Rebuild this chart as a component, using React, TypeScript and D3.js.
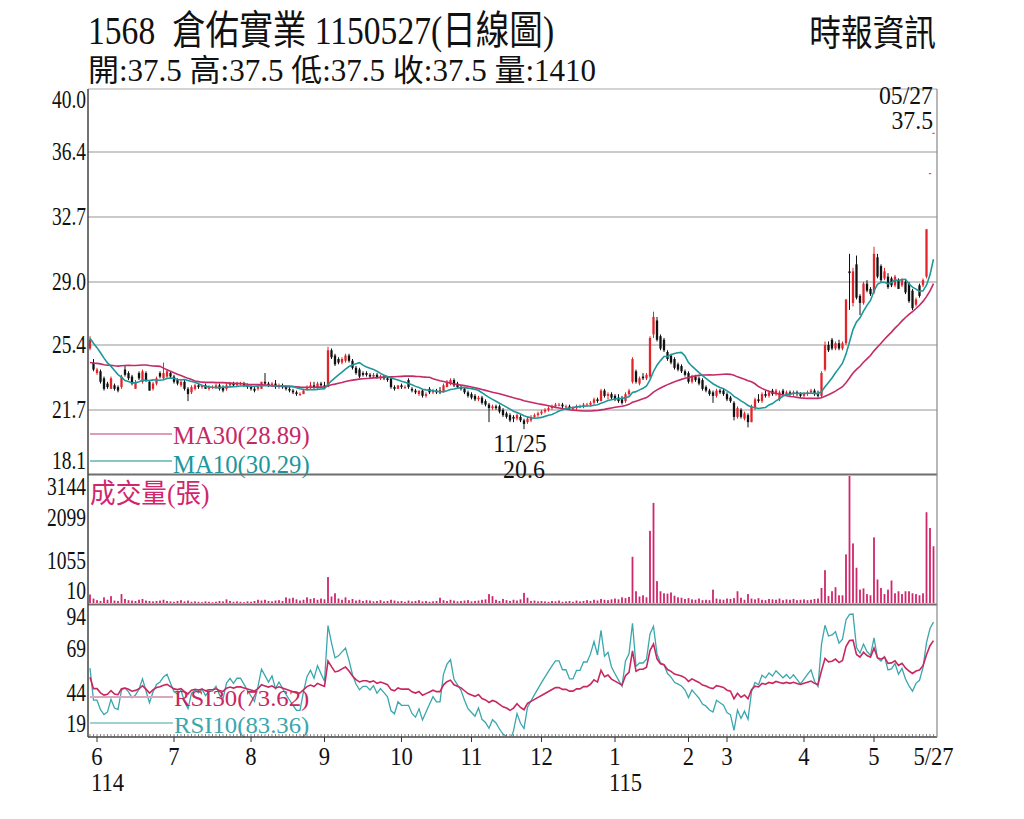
import React from "react";
import * as d3 from "d3";

// ---------- data ----------
const titleText = "1568  倉佑實業 1150527(日線圖)";
const sourceText = "時報資訊";
const lastDateText = "05/27";
const volumeTitle = "成交量(張)";
const maLegend = ["MA30(28.89)", "MA10(30.29)"];
const rsiLegend = ["RSI30(73.62)", "RSI10(83.36)"];
const lowDateText = "11/25";

const monthLabels = ["6", "7", "8", "9", "10", "11", "12", "1", "2", "3", "4", "5"];
const monthStartIndex = [2, 24, 46, 67, 89, 109, 129, 150, 171, 182, 204, 224];
const yearLabels = ["114", "", "", "", "", "", "", "115", "", "", "", ""];
const lastLabel = "5/27";

const priceTicks = [18.1, 21.7, 25.4, 29.0, 32.7, 36.4, 40.0];
const volumeTicks = [10, 1055, 2099, 3144];
const rsiTicks = [19, 44, 69, 94];

// closes before the visible window (used only to warm up MA / RSI)
const priorCloses = [25.0, 24.6, 24.2, 24.4, 23.9, 23.5, 23.8, 23.4, 23.0, 23.3, 23.1, 23.6, 23.2, 23.0, 23.5, 23.3, 23.8, 24.0, 23.7, 24.1, 26.8, 26.5, 26.2, 26.0, 25.7, 25.5, 25.3, 25.1, 25.0];

const opens = [
  25.2, 24.4, 23.8, 23.9, 23.5, 23.2, 22.9, 23.1, 23.0, 23.0,
  24.0, 23.8, 23.6, 22.9, 23.8, 23.3, 23.8, 23.3, 22.9, 23.2,
  23.8, 23.5, 23.6, 23.8, 23.6, 23.4, 23.1, 23.3, 22.9, 22.7,
  22.9, 23.1, 23.0, 23.1, 22.9, 23.0, 23.0, 23.1, 23.0, 22.9,
  23.1, 23.2, 23.1, 23.2, 23.2, 23.1, 23.0, 22.9, 22.9, 22.9,
  23.3, 23.2, 23.1, 23.2, 23.0, 23.1, 23.0, 22.9, 22.8, 22.7,
  22.6, 22.6, 22.9, 23.0, 23.1, 23.0, 23.2, 23.1, 23.0, 25.1,
  24.8, 24.6, 24.4, 24.5, 24.8, 24.5, 24.1, 24.0, 23.8, 23.8,
  23.7, 23.6, 23.7, 23.5, 23.6, 23.5, 23.5, 23.0, 22.9, 23.1,
  23.0, 23.4, 22.9, 22.8, 22.6, 22.8, 22.5, 22.9, 22.7, 22.8,
  22.8, 22.7, 23.0, 23.2, 23.4, 23.2, 23.0, 22.9, 22.7, 22.6,
  22.5, 22.3, 22.4, 22.2, 22.0, 21.8, 21.9, 21.9, 21.7, 21.5,
  21.4, 21.3, 21.2, 21.3, 21.1, 21.0, 21.1, 21.3, 21.4, 21.5,
  21.6, 21.7, 21.8, 21.9, 22.0, 22.0, 21.9, 21.9, 21.8, 21.8,
  21.9, 21.9, 22.0, 22.0, 22.1, 22.3, 22.2, 22.8, 22.5, 22.6,
  22.5, 22.4, 22.3, 22.2, 22.6, 23.3, 23.9, 23.2, 23.6, 23.5,
  23.6, 26.0, 26.8, 25.9, 25.7, 25.0, 24.8, 24.6, 24.3, 24.2,
  23.9, 23.8, 23.3, 23.6, 23.5, 23.4, 23.0, 22.8, 22.7, 22.5,
  22.8, 22.8, 22.6, 22.4, 22.1, 21.3, 21.7, 21.2, 21.4, 21.0,
  21.8, 22.3, 22.2, 22.6, 22.5, 22.8, 22.6, 22.3, 22.8, 22.6,
  22.7, 22.6, 22.7, 22.6, 22.5, 22.6, 22.7, 22.8, 22.6, 22.5,
  24.0, 25.4, 25.7, 25.2, 25.5, 25.2, 25.5, 29.6, 27.8, 30.0,
  28.2, 27.8, 28.9, 28.6, 28.4, 30.4, 29.9, 29.2, 29.3, 29.2,
  28.8, 29.1, 28.8, 29.0, 28.9, 28.5, 27.7, 28.8, 28.8, 29.3,
  35.2, 37.5,
];

const highs = [
  25.9, 24.6, 24.1, 24.0, 23.6, 23.3, 23.6, 23.2, 23.1, 23.7,
  24.2, 23.9, 23.7, 23.4, 23.9, 24.0, 23.9, 23.4, 23.3, 23.6,
  23.9, 24.4, 24.0, 23.9, 23.7, 23.5, 23.4, 23.4, 23.0, 23.1,
  23.2, 23.2, 23.1, 23.2, 23.1, 23.1, 23.2, 23.2, 23.1, 23.2,
  23.3, 23.3, 23.3, 23.3, 23.3, 23.2, 23.1, 23.0, 23.1, 23.3,
  23.8, 23.3, 23.3, 23.4, 23.2, 23.2, 23.1, 23.0, 22.9, 22.8,
  22.7, 22.9, 23.1, 23.3, 23.3, 23.3, 23.3, 23.3, 25.3, 25.2,
  24.9, 24.7, 24.7, 24.9, 24.9, 24.6, 24.2, 24.1, 23.9, 23.9,
  23.8, 23.8, 23.8, 23.7, 23.7, 23.6, 23.6, 23.1, 23.1, 23.2,
  23.1, 23.5, 23.0, 22.9, 22.8, 22.9, 22.7, 23.0, 22.9, 22.9,
  23.0, 23.2, 23.4, 23.5, 23.5, 23.3, 23.1, 23.0, 22.8, 22.7,
  22.6, 22.5, 22.5, 22.3, 22.1, 22.0, 22.0, 22.0, 21.8, 21.6,
  21.5, 21.4, 21.5, 21.4, 21.2, 21.3, 21.4, 21.5, 21.6, 21.7,
  21.8, 21.9, 22.0, 22.1, 22.1, 22.1, 22.0, 22.0, 21.9, 22.0,
  22.0, 22.1, 22.1, 22.2, 22.4, 22.4, 22.9, 22.9, 22.7, 22.7,
  22.6, 22.6, 22.5, 22.7, 22.9, 24.7, 24.0, 23.6, 23.8, 23.8,
  25.9, 27.3, 27.0, 26.0, 25.8, 25.1, 24.9, 24.7, 24.4, 24.3,
  24.0, 23.9, 23.7, 23.7, 23.6, 23.5, 23.1, 22.9, 22.8, 22.9,
  22.9, 22.9, 22.7, 22.5, 22.2, 21.9, 21.8, 21.6, 21.5, 22.0,
  22.4, 22.6, 22.7, 22.8, 22.8, 22.9, 22.9, 22.8, 22.9, 22.8,
  22.8, 22.8, 22.8, 22.7, 22.7, 22.8, 22.9, 22.9, 22.8, 23.9,
  25.6, 25.6, 25.8, 25.6, 25.7, 25.6, 28.0, 30.6, 29.8, 30.5,
  28.3, 29.0, 29.1, 28.7, 31.0, 30.6, 30.0, 29.8, 29.5, 29.3,
  29.4, 29.2, 29.2, 29.1, 29.0, 28.6, 28.1, 28.9, 29.2, 32.0,
  35.2, 37.5,
];

const lows = [
  25.1, 23.9, 23.7, 23.2, 22.8, 22.9, 22.9, 22.8, 22.7, 22.9,
  23.6, 23.4, 23.1, 22.9, 23.4, 23.2, 23.3, 22.8, 22.8, 23.1,
  23.5, 23.4, 23.5, 23.5, 23.2, 23.1, 23.0, 22.8, 22.2, 22.6,
  22.8, 22.9, 22.9, 22.9, 22.8, 22.9, 22.9, 22.8, 22.7, 22.8,
  23.0, 23.0, 23.0, 23.1, 23.0, 22.9, 22.8, 22.7, 22.8, 22.9,
  23.1, 23.0, 23.0, 22.9, 22.9, 22.9, 22.8, 22.7, 22.6, 22.5,
  22.5, 22.6, 22.8, 22.9, 22.9, 22.9, 23.0, 22.9, 23.0, 24.6,
  24.2, 24.3, 24.3, 24.4, 24.4, 24.0, 23.7, 23.5, 23.6, 23.6,
  23.5, 23.5, 23.5, 23.4, 23.4, 23.3, 22.9, 22.8, 22.9, 22.9,
  22.9, 22.9, 22.7, 22.6, 22.5, 22.4, 22.4, 22.6, 22.6, 22.6,
  22.6, 22.7, 23.0, 23.1, 23.0, 22.9, 22.8, 22.6, 22.4, 22.3,
  22.2, 22.2, 22.0, 21.9, 21.0, 21.7, 21.7, 21.5, 21.3, 21.2,
  21.0, 21.0, 21.1, 21.0, 20.6, 20.9, 21.0, 21.2, 21.3, 21.4,
  21.5, 21.6, 21.7, 21.8, 21.9, 21.8, 21.8, 21.7, 21.7, 21.7,
  21.8, 21.8, 21.9, 21.9, 22.0, 22.1, 22.2, 22.4, 22.3, 22.3,
  22.2, 22.1, 22.0, 22.1, 22.5, 23.2, 23.2, 23.1, 23.4, 23.4,
  23.5, 25.8, 25.6, 25.1, 25.0, 24.5, 24.3, 24.0, 23.9, 23.8,
  23.6, 23.2, 23.2, 23.3, 23.1, 22.8, 22.7, 22.5, 22.1, 22.4,
  22.6, 22.5, 22.2, 22.1, 21.1, 21.2, 21.2, 21.1, 20.7, 21.0,
  21.7, 22.1, 22.1, 22.4, 22.4, 22.5, 22.5, 22.2, 22.5, 22.5,
  22.5, 22.5, 22.5, 22.4, 22.4, 22.5, 22.6, 22.5, 22.4, 22.4,
  23.9, 25.0, 25.1, 25.1, 25.1, 25.1, 25.4, 27.4, 27.6, 28.0,
  27.1, 27.7, 28.4, 28.2, 28.3, 29.2, 29.0, 29.1, 28.6, 28.7,
  28.7, 28.6, 28.7, 28.3, 27.8, 27.4, 27.6, 28.1, 28.7, 29.2,
  35.2, 37.5,
];

const closes = [
  25.7, 24.0, 24.0, 23.3, 22.9, 23.0, 23.5, 22.9, 22.8, 23.6,
  23.7, 23.5, 23.2, 23.3, 23.5, 23.9, 23.4, 22.8, 23.2, 23.5,
  23.6, 23.8, 23.9, 23.6, 23.3, 23.2, 23.3, 22.9, 22.6, 23.0,
  23.1, 23.0, 23.1, 22.9, 23.0, 23.0, 23.1, 22.9, 22.8, 23.1,
  23.2, 23.1, 23.2, 23.2, 23.1, 23.0, 22.9, 22.8, 23.0, 23.3,
  23.2, 23.1, 23.2, 23.0, 23.1, 23.0, 22.9, 22.8, 22.7, 22.6,
  22.6, 22.8, 23.0, 23.1, 23.0, 23.2, 23.1, 23.0, 25.1, 24.7,
  24.3, 24.4, 24.6, 24.8, 24.5, 24.1, 23.8, 23.6, 23.7, 23.7,
  23.6, 23.7, 23.5, 23.6, 23.5, 23.4, 23.0, 22.9, 23.1, 23.0,
  23.0, 23.0, 22.8, 22.7, 22.8, 22.5, 22.6, 22.7, 22.8, 22.7,
  22.7, 23.1, 23.3, 23.4, 23.1, 23.0, 22.9, 22.7, 22.5, 22.4,
  22.3, 22.4, 22.1, 22.0, 21.8, 21.9, 21.8, 21.6, 21.4, 21.3,
  21.1, 21.2, 21.4, 21.1, 20.9, 21.2, 21.3, 21.4, 21.5, 21.6,
  21.7, 21.8, 21.9, 22.0, 22.0, 21.9, 21.9, 21.8, 21.8, 21.9,
  21.9, 22.0, 22.0, 22.1, 22.3, 22.2, 22.8, 22.5, 22.6, 22.4,
  22.3, 22.2, 22.1, 22.6, 22.8, 24.6, 23.3, 23.5, 23.5, 23.7,
  25.8, 27.0, 25.7, 25.2, 25.1, 24.6, 24.4, 24.1, 24.0, 23.9,
  23.7, 23.3, 23.6, 23.4, 23.2, 22.9, 22.8, 22.6, 22.5, 22.8,
  22.7, 22.6, 22.3, 22.2, 21.3, 21.8, 21.3, 21.5, 21.0, 21.9,
  22.3, 22.2, 22.6, 22.5, 22.7, 22.6, 22.8, 22.7, 22.6, 22.7,
  22.6, 22.7, 22.6, 22.5, 22.6, 22.7, 22.8, 22.6, 22.5, 23.8,
  25.4, 25.1, 25.2, 25.5, 25.2, 25.5, 28.0, 29.5, 29.6, 28.1,
  27.8, 28.9, 28.5, 28.3, 30.6, 29.3, 29.1, 29.6, 28.7, 28.8,
  29.3, 28.6, 29.1, 28.4, 27.9, 27.5, 28.0, 28.2, 29.1, 32.0,
  35.2, 37.5,
];

const volumes = [
  220, 120, 80, 60, 150, 90, 180, 70, 60, 230,
  110, 80, 70, 60, 90, 110, 70, 60, 50, 60,
  70, 90, 60, 50, 40, 60, 80, 50, 70, 40,
  50, 40, 30, 50, 40, 30, 40, 60, 50, 100,
  60, 40, 50, 40, 30, 50, 40, 60, 90, 70,
  90, 60, 50, 70, 80, 60, 150, 120, 140, 100,
  70, 90, 150, 110, 130, 90, 120, 100, 650, 170,
  250, 120, 90, 150, 80, 110, 70, 90, 60, 80,
  70, 50, 60, 80, 50, 60, 90, 70, 50, 60,
  40, 70, 50, 60, 80, 50, 60, 40, 50, 60,
  140, 80, 60, 90, 70, 50, 60, 70, 80, 50,
  60, 70, 90, 100, 230, 180, 90, 60, 110, 80,
  60, 90, 70, 100, 260, 140, 60, 70, 50, 60,
  50, 40, 60, 50, 70, 40, 50, 60, 40, 70,
  50, 60, 80, 60, 90, 70, 110, 90, 80, 100,
  120, 100, 150, 130, 160, 1150, 300, 170, 200, 150,
  1790, 2480, 550, 300, 250, 240, 270, 190, 150, 140,
  110, 130, 100, 90, 120, 80, 90, 80, 340, 120,
  100, 90, 120, 110, 130, 300, 140, 90, 230, 120,
  100, 130, 90, 80, 110, 100, 90, 120, 80, 100,
  90, 110, 80, 90, 100, 80, 90, 110, 120, 380,
  820, 180, 300, 400, 200, 200, 1210, 3144, 1480, 880,
  340, 370, 230, 200, 1630, 590, 380, 230, 340, 565,
  250, 300, 230, 300, 300, 250, 230, 200, 250, 2250,
  1860, 1410,
];

// ---------- styling ----------
const FONT = "'Liberation Serif','Times New Roman','Noto Sans CJK TC',serif";
const UP = "#e3242b";
const DOWN = "#111111";
const MA30C = "#c42a66";
const MA10C = "#1d979c";
const VOLC = "#d0266c";
const RSI30C = "#c8285f";
const RSI10C = "#3aa6ae";

const L = 88;
const R = 937;
const P = { top: 89, bottom: 473 };
const V = { top: 476, bottom: 603 };
const S = { top: 606, bottom: 736 };

type CTProps = {
  x: number; y: number; sx?: number; size: number; anchor?: string; fill?: string; children: React.ReactNode;
};
function CText({ x, y, sx = 0.8, size, anchor = "start", fill = "#111", children }: CTProps) {
  return (
    <text
      transform={`translate(${x},${y}) scale(${sx},1)`}
      fontSize={size}
      textAnchor={anchor as any}
      fill={fill}
      fontFamily={FONT}
      style={{ whiteSpace: "pre" }}
    >
      {children}
    </text>
  );
}

export default function App() {
  const n = closes.length;
  const x = d3.scaleLinear().domain([0, n - 1]).range([90, 933.5]);
  const yP = d3.scaleLinear().domain([18.1, 40.0]).range([P.bottom, P.top]);
  const yV = d3.scaleLinear().domain([10, 3144]).range([V.bottom, V.top]);
  const yR = d3.scaleLinear().domain([19, 94]).range([S.bottom, S.top]);

  const all = priorCloses.concat(closes);
  const off = priorCloses.length;
  const ma = (p: number) =>
    closes.map((_, i) => d3.mean(all.slice(off + i - p + 1, off + i + 1)) as number);
  const rsi = (p: number) => {
    const ch = d3.range(1, all.length).map((k) => all[k] - all[k - 1]);
    const m = Math.min(p, off);
    let g = d3.mean(ch.slice(0, m), (d) => Math.max(d, 0)) as number;
    let l = d3.mean(ch.slice(0, m), (d) => Math.max(-d, 0)) as number;
    const out: number[] = new Array(n);
    if (m - off >= 0) out[m - off] = (100 * g) / (g + l);
    for (let j = m; j < ch.length; j++) {
      g = (g * (p - 1) + Math.max(ch[j], 0)) / p;
      l = (l * (p - 1) + Math.max(-ch[j], 0)) / p;
      const ci = j + 1 - off;
      if (ci >= 0) out[ci] = g + l === 0 ? 50 : (100 * g) / (g + l);
    }
    return out;
  };

  const ma10 = ma(10);
  const ma30 = ma(30);
  const rsi10 = rsi(10);
  const rsi30 = rsi(30);

  const lineP = d3.line<number>().x((_, i) => x(i)).y((d) => yP(d));
  const lineR = d3
    .line<number>()
    .defined((d) => d !== undefined && !isNaN(d))
    .x((_, i) => x(i))
    .y((d) => yR(d));

  const clampLabel = (y: number, top: number, bottom: number) =>
    Math.max(top + 11, Math.min(bottom - 12, y));

  let lowIdx = 0;
  lows.forEach((v, i) => {
    if (v < lows[lowIdx]) lowIdx = i;
  });

  const bodyW = 2.3;
  const last = n - 1;
  const quoteLine = `開:${opens[last].toFixed(1)} 高:${highs[last].toFixed(1)} 低:${lows[last].toFixed(1)} 收:${closes[last].toFixed(1)} 量:${volumes[last]}`;

  return (
    <svg width={1024} height={819} viewBox="0 0 1024 819" style={{ display: "block", margin: "-8px", background: "#fff" }}>
      <rect x={0} y={0} width={1024} height={819} fill="#fff" />
      <defs>
        <clipPath id="clipP"><rect x={L} y={P.top} width={R - L} height={P.bottom - P.top} /></clipPath>
        <clipPath id="clipS"><rect x={L} y={S.top} width={R - L} height={S.bottom - S.top} /></clipPath>
      </defs>

      {/* header */}
      <CText x={88} y={44} size={40} sx={0.84}>{titleText}</CText>
      <CText x={88} y={81} size={31} sx={1.0}>{quoteLine}</CText>
      <CText x={936} y={46} size={36} sx={0.88} anchor="end">{sourceText}</CText>

      {/* price grid */}
      {priceTicks.filter((t) => t !== priceTicks[0] && t !== priceTicks[priceTicks.length - 1]).map((t) => (
        <line key={"g" + t} x1={L} x2={R} y1={yP(t)} y2={yP(t)} stroke="#b8b8b8" strokeWidth={1.5} />
      ))}

      {/* candles */}
      <g clipPath="url(#clipP)">
        {closes.map((c, i) => {
          const o = opens[i];
          const up = c >= o;
          const col = up ? UP : DOWN;
          const yTop = yP(Math.max(o, c));
          const yBot = yP(Math.min(o, c));
          return (
            <g key={"c" + i}>
              <line x1={x(i)} x2={x(i)} y1={yP(highs[i])} y2={yP(lows[i])} stroke={col} strokeWidth={1} />
              <rect x={x(i) - bodyW / 2} y={yTop} width={bodyW} height={Math.max(1, yBot - yTop)} fill={col} />
            </g>
          );
        })}
        <path d={lineP(ma30) || ""} fill="none" stroke={MA30C} strokeWidth={1.6} />
        <path d={lineP(ma10) || ""} fill="none" stroke={MA10C} strokeWidth={1.6} />
      </g>

      {/* price legend */}
      <line x1={90} x2={172} y1={434} y2={434} stroke="#d57aa0" strokeWidth={1.3} />
      <CText x={173} y={444} size={25} sx={0.99} fill={MA30C}>{maLegend[0]}</CText>
      <line x1={90} x2={172} y1={461} y2={461} stroke="#5fb4b8" strokeWidth={1.3} />
      <CText x={173} y={473} size={25} sx={0.99} fill={MA10C}>{maLegend[1]}</CText>

      {/* volume */}
      {volumes.map((v, i) => (
        <rect key={"v" + i} x={x(i) - 0.9} y={yV(Math.max(v, 10))} width={1.8} height={V.bottom - yV(Math.max(v, 10))} fill={VOLC} />
      ))}
      <CText x={90} y={503} size={27} sx={0.95} fill={VOLC}>{volumeTitle}</CText>

      {/* RSI */}
      <g clipPath="url(#clipS)">
        <path d={lineR(rsi10) || ""} fill="none" stroke={RSI10C} strokeWidth={1.3} />
        <path d={lineR(rsi30) || ""} fill="none" stroke={RSI30C} strokeWidth={1.6} />
      </g>
      <line x1={90} x2={173} y1={697} y2={697} stroke="#d9a6bd" strokeWidth={2} />
      <CText x={174} y={706} size={24} sx={1.03} fill={RSI30C}>{rsiLegend[0]}</CText>
      <line x1={90} x2={173} y1={723} y2={723} stroke="#9fd0d2" strokeWidth={2} />
      <CText x={174} y={733} size={24} sx={1.03} fill={RSI10C}>{rsiLegend[1]}</CText>

      {/* frame */}
      <line x1={L} x2={R} y1={P.top} y2={P.top} stroke="#a8a8a8" strokeWidth={1.2} />
      <line x1={L} x2={R} y1={474.5} y2={474.5} stroke="#6e6e6e" strokeWidth={2} />
      <line x1={L} x2={R} y1={604.5} y2={604.5} stroke="#6e6e6e" strokeWidth={2} />
      <line x1={L} x2={R} y1={737} y2={737} stroke="#444" strokeWidth={1.5} />
      <line x1={L} x2={L} y1={P.top} y2={737} stroke="#444" strokeWidth={1.5} />
      <line x1={R} x2={R} y1={P.top} y2={737} stroke="#888" strokeWidth={1.2} />

      {/* x ticks */}
      {closes.map((_, i) => (
        <line key={"t" + i} x1={x(i)} x2={x(i)} y1={737} y2={734} stroke="#555" strokeWidth={0.7} />
      ))}
      {monthStartIndex.map((mi, k) => (
        <line key={"mt" + k} x1={x(mi)} x2={x(mi)} y1={737} y2={742} stroke="#333" strokeWidth={1} />
      ))}

      {/* y labels */}
      {priceTicks.map((t) => (
        <CText key={"pl" + t} x={86} y={clampLabel(yP(t), P.top, P.bottom) + 8} size={25} sx={0.78} anchor="end">
          {t.toFixed(1)}
        </CText>
      ))}
      {volumeTicks.map((t) => (
        <CText key={"vl" + t} x={86} y={clampLabel(yV(t), V.top, V.bottom) + 8} size={25} sx={0.78} anchor="end">
          {String(t)}
        </CText>
      ))}
      {rsiTicks.map((t) => (
        <CText key={"rl" + t} x={86} y={clampLabel(yR(t), S.top, S.bottom) + 8} size={25} sx={0.78} anchor="end">
          {String(t)}
        </CText>
      ))}

      {/* x labels */}
      {monthStartIndex.map((mi, k) => (
        <CText key={"ml" + k} x={x(mi)} y={765} size={26} sx={0.87} anchor="middle">{monthLabels[k]}</CText>
      ))}
      {monthStartIndex.map((mi, k) =>
        yearLabels[k] ? (
          <CText key={"yl" + k} x={x(mi) - 6} y={791} size={26} sx={0.87}>{yearLabels[k]}</CText>
        ) : null
      )}
      <CText x={x(last)} y={765} size={26} sx={0.87} anchor="middle">{lastLabel}</CText>

      {/* annotations */}
      <CText x={933} y={104} size={25} sx={0.95} anchor="end">{lastDateText}</CText>
      <CText x={933} y={129} size={25} sx={0.95} anchor="end">{closes[last].toFixed(1)}</CText>
      <CText x={x(lowIdx) - 4} y={452} size={26} sx={0.92} anchor="middle">{lowDateText}</CText>
      <CText x={x(lowIdx)} y={478} size={26} sx={0.92} anchor="middle">{lows[lowIdx].toFixed(1)}</CText>
    </svg>
  );
}
